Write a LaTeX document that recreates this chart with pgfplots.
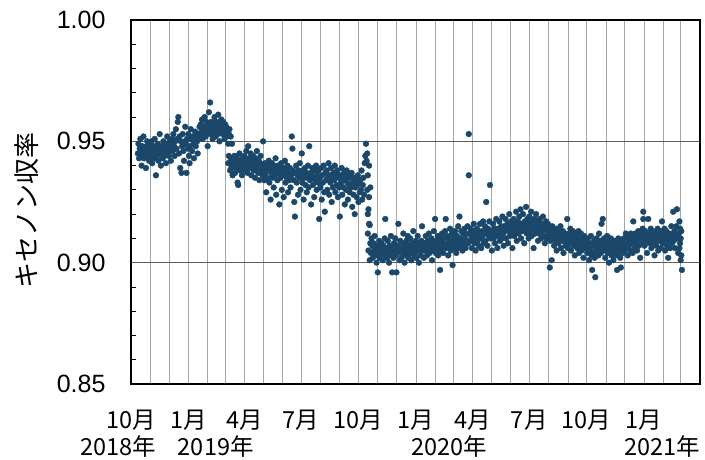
\documentclass[border=0pt]{standalone}
\usepackage{fontspec}
\setmainfont{Liberation Sans}
\newfontfamily\jp{Noto Sans CJK JP}
\usepackage{pgfplots}
\pgfplotsset{compat=1.18}
\definecolor{dotblue}{RGB}{27,72,106}
\definecolor{vgrid}{RGB}{165,165,165}
\definecolor{hgrid}{RGB}{95,95,95}
\begin{document}
\begin{tikzpicture}
\path[use as bounding box] (-131pt,-75pt) rectangle (574pt,384pt);
\begin{axis}[
  at={(0pt,0pt)}, anchor=south west,
  scale only axis, width=569pt, height=364pt,
  xmin=0, xmax=913, ymin=0.85, ymax=1.00,
  clip=false,
  axis line style={line width=1.3pt, black},
  % month starts, days counted from 1 Oct 2018
  xtick={0,31,61,92,123,151,182,212,243,273,304,335,365,396,426,457,488,517,548,578,609,639,670,701,731,762,792,823,854,882,913},
  xticklabels={10月,,,1月,,,4月,,,7月,,,10月,,,1月,,,4月,,,7月,,,10月,,,1月,,,},
  xmajorgrids, major x grid style={vgrid, line width=0.6pt},
  ytick={0.85,0.90,0.95,1.00}, minor y tick num=4,
  ymajorgrids, major y grid style={hgrid, line width=0.7pt},
  xtick pos=bottom, ytick pos=left, tick align=inside,
  major tick length=0pt, minor tick length=5pt,
  every minor tick/.append style={black, line width=0.8pt},
  xticklabel style={font=\jp\fontsize{23.5}{24}\selectfont, anchor=center, yshift=-36pt},
  yticklabel style={font=\fontsize{25}{25}\selectfont, xshift=-22pt,
    /pgf/number format/.cd, fixed, fixed zerofill, precision=2, assume math mode=true},
  ylabel={キセノン収率},
  ylabel style={font=\jp\fontsize{26}{26}\selectfont, at={(axis description cs:-0.183,0.478)}, anchor=center},
]
\addplot[only marks, mark=*, mark size=2.9pt, color=dotblue] coordinates {
(11,0.945)(12,0.949)(13,0.943)(14,0.947)(15,0.951)(16,0.944)(17,0.940)(18,0.948)(19,0.946)(20,0.952)
(21,0.943)(22,0.947)(23,0.945)(24,0.939)(25,0.948)(26,0.950)(27,0.944)(28,0.946)(29,0.942)(30,0.949)
(31,0.947)(32,0.944)(33,0.950)(34,0.941)(35,0.946)(36,0.948)(37,0.943)(38,0.951)(39,0.945)(40,0.936)
(41,0.947)(42,0.944)(43,0.949)(44,0.942)(45,0.946)(46,0.953)(47,0.945)(48,0.940)(49,0.948)(50,0.947)
(51,0.943)(52,0.950)(53,0.946)(54,0.944)(55,0.949)(56,0.941)(57,0.947)(58,0.952)(59,0.945)(60,0.948)
(61,0.944)(62,0.950)(63,0.947)(64,0.942)(65,0.949)(66,0.951)(67,0.946)(68,0.953)(69,0.948)(70,0.944)
(71,0.950)(72,0.955)(73,0.947)(74,0.951)(75,0.958)(76,0.960)(77,0.945)(78,0.952)(79,0.939)(80,0.950)
(81,0.937)(82,0.948)(83,0.953)(84,0.946)(85,0.942)(86,0.950)(87,0.956)(88,0.949)(89,0.937)(90,0.951)
(91,0.947)(92,0.953)(93,0.944)(94,0.941)(95,0.948)(96,0.955)(97,0.951)(98,0.946)(99,0.952)(100,0.949)
(101,0.943)(102,0.951)(103,0.954)(104,0.948)(105,0.952)(106,0.950)(107,0.945)(108,0.953)(109,0.951)(110,0.956)
(111,0.952)(112,0.957)(113,0.954)(114,0.959)(115,0.951)(116,0.956)(117,0.953)(118,0.960)(119,0.955)(120,0.952)
(121,0.958)(122,0.954)(123,0.948)(124,0.957)(125,0.962)(126,0.955)(127,0.966)(128,0.953)(129,0.958)(130,0.956)
(131,0.951)(132,0.957)(133,0.954)(134,0.960)(135,0.955)(136,0.952)(137,0.958)(138,0.956)(139,0.953)(140,0.961)
(141,0.955)(142,0.950)(143,0.957)(144,0.954)(145,0.959)(146,0.956)(147,0.953)(148,0.958)(149,0.955)(150,0.951)
(151,0.957)(152,0.954)(153,0.956)(154,0.952)(155,0.955)(156,0.949)(157,0.953)(158,0.955)(160,0.952)(162,0.949)
(156,0.941)(157,0.944)(158,0.941)(159,0.938)(160,0.943)(161,0.939)(163,0.936)(164,0.942)(165,0.940)(166,0.944)(167,0.937)
(168,0.941)(169,0.939)(170,0.943)(171,0.933)(172,0.932)(173,0.940)(174,0.945)(175,0.938)(176,0.942)(177,0.940)
(178,0.936)(179,0.943)(180,0.939)(181,0.941)(182,0.944)(183,0.938)(184,0.942)(185,0.946)(186,0.940)(187,0.937)
(188,0.948)(189,0.941)(190,0.943)(191,0.939)(192,0.945)(193,0.936)(194,0.942)(195,0.940)(196,0.944)(197,0.938)
(198,0.941)(199,0.935)(200,0.943)(201,0.939)(202,0.946)(203,0.940)(204,0.937)(205,0.942)(206,0.934)(207,0.941)
(208,0.944)(209,0.938)(210,0.940)
(211,0.936)(212,0.950)(213,0.939)(214,0.934)(215,0.941)(216,0.937)(217,0.929)(218,0.940)(219,0.935)(220,0.938)
(221,0.942)(222,0.933)(223,0.939)(224,0.926)(225,0.937)(226,0.941)(227,0.935)(228,0.938)(229,0.931)(230,0.940)
(231,0.936)(232,0.943)(233,0.928)(234,0.938)(235,0.934)(236,0.940)(237,0.937)(238,0.924)(239,0.939)(240,0.935)
(241,0.941)(242,0.930)(243,0.937)(244,0.939)(245,0.927)(246,0.936)(247,0.942)(248,0.933)(249,0.938)(250,0.935)
(251,0.940)(252,0.929)(253,0.937)(254,0.934)(255,0.939)(256,0.931)(257,0.936)(258,0.952)(259,0.947)(260,0.938)
(261,0.934)(262,0.925)(263,0.919)(264,0.937)(265,0.940)(266,0.933)(267,0.936)(268,0.928)(269,0.938)(270,0.935)
(271,0.941)(272,0.930)(273,0.936)(274,0.945)(275,0.933)(276,0.938)(277,0.926)(278,0.935)(279,0.939)(280,0.932)
(281,0.937)(282,0.929)(283,0.935)(284,0.940)(285,0.931)(286,0.948)(287,0.934)(288,0.937)(289,0.924)(290,0.936)
(291,0.939)(292,0.932)(293,0.935)(294,0.927)(295,0.938)(296,0.934)(297,0.940)(298,0.930)(299,0.936)(300,0.933)
(301,0.938)(302,0.918)(303,0.935)(304,0.931)(305,0.939)(306,0.926)(307,0.936)(308,0.933)(309,0.940)(310,0.929)
(311,0.921)(312,0.937)(313,0.934)(314,0.938)(315,0.930)(316,0.935)(317,0.941)(318,0.928)(319,0.936)(320,0.933)
(321,0.939)(322,0.925)(323,0.935)(324,0.931)(325,0.937)(326,0.934)(327,0.940)(328,0.929)(329,0.936)(330,0.932)
(331,0.938)(332,0.927)(333,0.935)(334,0.931)(335,0.919)(336,0.936)(337,0.933)(338,0.939)(339,0.928)(340,0.934)
(341,0.931)(342,0.937)(343,0.924)(344,0.935)(345,0.930)(346,0.938)(347,0.933)(348,0.926)(349,0.936)(350,0.932)
(351,0.929)(352,0.935)(353,0.931)(354,0.937)(355,0.923)(356,0.933)(357,0.928)(358,0.935)(359,0.920)(360,0.931)
(361,0.934)(362,0.927)(363,0.932)(364,0.936)(365,0.925)(366,0.933)(367,0.929)(368,0.934)(369,0.930)(370,0.938)
(371,0.926)(372,0.932)(373,0.935)(374,0.928)(375,0.941)(376,0.944)(377,0.949)(378,0.942)(379,0.930)(380,0.936)
(381,0.922)(382,0.927)(383,0.9155)(384,0.931)(379,0.945)(380,0.920)(382,0.940)
(380,0.912)(381,0.905)(382,0.916)(383,0.901)(384,0.908)
(385,0.904)(386,0.910)(387,0.907)(388,0.902)(389,0.908)(390,0.905)(391,0.911)(392,0.903)(393,0.906)(394,0.900)
(395,0.907)(396,0.896)(397,0.904)(398,0.909)(399,0.902)(400,0.906)(401,0.903)(402,0.908)(403,0.905)(404,0.901)
(405,0.907)(406,0.904)(407,0.910)(408,0.918)(409,0.903)(410,0.906)(411,0.902)(412,0.909)(413,0.905)(414,0.900)
(415,0.907)(416,0.904)(417,0.911)(418,0.903)(419,0.896)(420,0.906)(421,0.902)(422,0.908)(423,0.905)(424,0.910)
(425,0.903)(426,0.896)(427,0.907)(428,0.904)(429,0.916)(430,0.906)(431,0.901)(432,0.909)(433,0.905)(434,0.902)
(435,0.908)(436,0.904)(437,0.912)(438,0.906)(439,0.900)(440,0.907)(441,0.903)(442,0.909)(443,0.905)(444,0.911)
(445,0.902)(446,0.907)(447,0.904)(448,0.910)(449,0.906)(450,0.901)(451,0.908)(452,0.905)(453,0.913)(454,0.903)
(455,0.907)(456,0.904)(457,0.909)(458,0.902)(459,0.906)(460,0.911)(461,0.905)(462,0.900)(463,0.908)(464,0.906)
(465,0.903)(466,0.909)(467,0.915)(468,0.905)(469,0.907)(470,0.902)
(471,0.908)(472,0.905)(473,0.911)(474,0.906)(475,0.903)(476,0.909)(477,0.907)(478,0.912)(479,0.904)(480,0.908)
(481,0.906)(482,0.910)(483,0.901)(484,0.908)(485,0.905)(486,0.913)(487,0.907)(488,0.918)(489,0.904)(490,0.909)
(491,0.906)(492,0.911)(493,0.903)(494,0.908)(495,0.905)(496,0.897)(497,0.910)(498,0.906)(499,0.912)(500,0.908)
(501,0.904)(502,0.910)(503,0.907)(504,0.913)(505,0.918)(506,0.906)(507,0.911)(508,0.908)(509,0.903)(510,0.910)
(511,0.907)(512,0.914)(513,0.905)(514,0.909)(515,0.912)(516,0.899)(517,0.908)(518,0.911)(519,0.906)(520,0.913)
(521,0.909)(522,0.904)(523,0.911)(524,0.908)(525,0.915)(526,0.906)(527,0.919)(528,0.910)(529,0.907)(530,0.913)
(531,0.909)(532,0.905)(533,0.912)(534,0.908)(535,0.914)(536,0.910)(537,0.906)(538,0.912)(539,0.909)(540,0.915)
(541,0.908)(542,0.953)(542,0.936)(543,0.912)(544,0.909)(545,0.914)(546,0.911)(547,0.906)(548,0.913)(549,0.910)(550,0.916)
(551,0.908)(552,0.912)(553,0.905)(554,0.911)(555,0.914)(556,0.909)(557,0.913)(558,0.907)(559,0.912)(560,0.916)
(561,0.910)(562,0.906)(563,0.913)(564,0.911)(565,0.917)(566,0.908)(567,0.912)(568,0.915)(569,0.909)(570,0.925)
(571,0.913)(572,0.907)(573,0.914)(574,0.911)(575,0.917)(576,0.932)(577,0.910)(578,0.913)(579,0.905)(580,0.912)
(581,0.916)(582,0.910)(583,0.914)(584,0.908)(585,0.913)(586,0.918)(587,0.911)(588,0.906)(589,0.914)(590,0.912)
(591,0.917)(592,0.909)(593,0.913)(594,0.915)(595,0.910)(596,0.919)(597,0.912)(598,0.907)(599,0.915)(600,0.913)
(601,0.918)(602,0.910)(603,0.914)(604,0.916)(605,0.908)(606,0.913)(607,0.920)(608,0.911)(609,0.915)(610,0.917)
(611,0.912)(612,0.906)(613,0.914)(614,0.918)(615,0.911)(616,0.916)(617,0.913)(618,0.921)(619,0.909)(620,0.915)
(621,0.917)(622,0.912)(623,0.919)(624,0.914)(625,0.922)(626,0.910)(627,0.916)(628,0.913)(629,0.920)(630,0.915)
(631,0.908)(632,0.917)(633,0.914)(634,0.923)(635,0.912)(636,0.918)(637,0.915)(638,0.910)(639,0.919)(640,0.916)
(641,0.913)(642,0.921)(643,0.911)(644,0.917)(645,0.914)(646,0.906)(647,0.918)(648,0.915)(649,0.912)(650,0.920)
(651,0.913)(652,0.917)(653,0.909)(654,0.915)(655,0.912)(656,0.918)(657,0.914)(658,0.910)(659,0.916)(660,0.913)
(661,0.919)(662,0.911)(663,0.915)(664,0.908)(665,0.914)(666,0.917)(667,0.910)(668,0.913)(669,0.916)(670,0.911)
(671,0.914)(672,0.898)(673,0.909)(674,0.912)(675,0.901)(676,0.915)(677,0.910)(678,0.913)(679,0.907)(680,0.912)
(681,0.909)(682,0.914)(683,0.905)(684,0.911)(685,0.913)(686,0.908)(687,0.912)(688,0.910)(689,0.915)(690,0.906)
(691,0.911)(692,0.909)(693,0.913)(694,0.904)(695,0.910)(696,0.912)(697,0.907)(698,0.911)(699,0.909)(700,0.918)
(701,0.906)(702,0.912)(703,0.908)(704,0.910)(705,0.914)(706,0.905)(707,0.911)(708,0.909)(709,0.913)(710,0.907)
(711,0.910)(712,0.903)(713,0.912)(714,0.908)(715,0.911)(716,0.906)(717,0.910)(718,0.913)(719,0.904)(720,0.909)
(721,0.907)(722,0.912)(723,0.905)(724,0.910)(725,0.908)(726,0.902)(727,0.911)(728,0.906)(729,0.909)(730,0.907)
(731,0.909)(732,0.904)(733,0.910)(734,0.906)(735,0.901)(736,0.908)(737,0.905)(738,0.911)(739,0.903)(740,0.897)
(741,0.907)(742,0.904)(743,0.909)(744,0.902)(745,0.894)(746,0.906)(747,0.910)(748,0.905)(749,0.908)(750,0.903)
(751,0.912)(752,0.906)(753,0.909)(754,0.904)(755,0.916)(756,0.908)(757,0.918)(758,0.905)(759,0.910)(760,0.907)
(761,0.902)(762,0.909)(763,0.906)(764,0.911)(765,0.904)(766,0.908)(767,0.900)(768,0.907)(769,0.905)(770,0.910)
(771,0.903)(772,0.908)(773,0.906)(774,0.901)(775,0.909)(776,0.905)(777,0.908)(778,0.903)(779,0.907)(780,0.897)
(781,0.905)(782,0.910)(783,0.904)(784,0.908)(785,0.902)(786,0.898)(787,0.906)(788,0.909)(789,0.904)(790,0.907)
(791,0.910)(792,0.905)(793,0.908)(794,0.912)(795,0.906)(796,0.909)(797,0.903)(798,0.911)(799,0.907)(800,0.910)
(801,0.905)(802,0.912)(803,0.908)(804,0.910)(805,0.904)(806,0.917)(807,0.909)(808,0.906)(809,0.912)(810,0.908)
(811,0.911)(812,0.905)(813,0.910)(814,0.913)(815,0.907)(816,0.910)(817,0.902)(818,0.909)(819,0.912)(820,0.908)
(821,0.914)(822,0.921)(822,0.918)(823,0.910)(824,0.907)(825,0.913)(826,0.909)(827,0.911)(828,0.904)(829,0.910)(830,0.918)
(831,0.912)(832,0.908)(833,0.911)(834,0.914)(835,0.906)(836,0.910)(837,0.913)(838,0.908)(839,0.911)(840,0.903)
(841,0.909)(842,0.912)(843,0.907)(844,0.910)(845,0.914)(846,0.905)(847,0.911)(848,0.909)(849,0.913)(850,0.906)
(851,0.910)(852,0.917)(853,0.908)(854,0.912)(855,0.909)(856,0.914)(857,0.905)(858,0.910)(859,0.913)(860,0.907)
(861,0.911)(862,0.902)(863,0.909)(864,0.912)(865,0.906)(866,0.910)(867,0.915)(868,0.908)(869,0.911)(870,0.921)
(871,0.909)(872,0.913)(873,0.906)(874,0.911)(875,0.915)(876,0.922)(877,0.910)(878,0.904)(879,0.912)(880,0.917)
(881,0.908)(882,0.901)(883,0.913)(884,0.897)(880,0.906)(881,0.914)(882,0.910)(883,0.903)
};
% year captions under the month labels
\node[font=\jp\fontsize{23.5}{24}\selectfont, anchor=center, yshift=-63pt] at (axis cs:-21,0.85) {2018年};
\node[font=\jp\fontsize{23.5}{24}\selectfont, anchor=center, yshift=-63pt] at (axis cs:136,0.85) {2019年};
\node[font=\jp\fontsize{23.5}{24}\selectfont, anchor=center, yshift=-63pt] at (axis cs:510,0.85) {2020年};
\node[font=\jp\fontsize{23.5}{24}\selectfont, anchor=center, yshift=-63pt] at (axis cs:853,0.85) {2021年};
\end{axis}
\end{tikzpicture}
\end{document}
